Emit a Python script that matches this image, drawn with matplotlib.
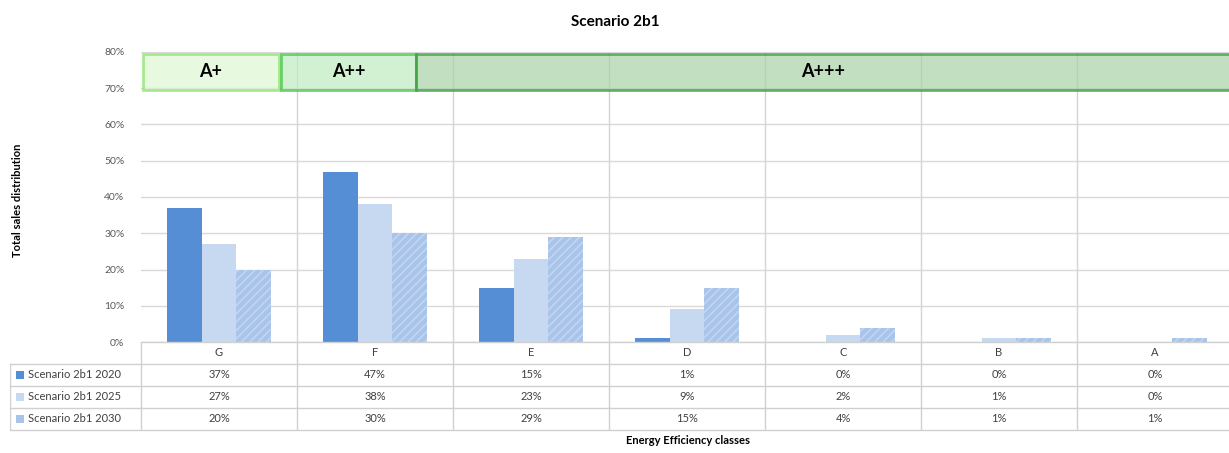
import numpy as np
import matplotlib
matplotlib.use('Agg')
import matplotlib.pyplot as plt
from matplotlib.patches import Rectangle

plt.rcParams['font.family'] = ['Lato', 'DejaVu Sans']
plt.rcParams['hatch.linewidth'] = 1.2

classes = ['G', 'F', 'E', 'D', 'C', 'B', 'A']
series = ['Scenario 2b1 2020', 'Scenario 2b1 2025', 'Scenario 2b1 2030']
s2020 = [37, 47, 15, 1, 0, 0, 0]
s2025 = [27, 38, 23, 9, 2, 1, 0]
s2030 = [20, 30, 29, 15, 4, 1, 1]
bands = ['A+', 'A++', 'A+++']

values = [s2020, s2025, s2030]
colors = ['#558ED5', '#C6D9F1', '#A9C4EB']
hatch_col = ['#558ED5', '#C6D9F1', '#C3D6F0']
hatches = [None, None, '////']

W, H = 1229, 453
fig = plt.figure(figsize=(W / 100, H / 100), dpi=100)

def px_axes(x0, y0, x1, y1):
    return fig.add_axes([x0 / W, 1 - y1 / H, (x1 - x0) / W, (y1 - y0) / H])

cat_w = 156.0
xmax = 6.5 - (1233 - W) / cat_w
ax = px_axes(141, 52, W, 342)
ax.set_xlim(-0.5, xmax)
ax.set_ylim(0, 0.8)

x = np.arange(len(classes))
bw = 0.224
for i, (vals, c) in enumerate(zip(values, colors)):
    ax.bar(x + (i - 1) * bw, np.array(vals) / 100, width=bw, color=c,
           edgecolor=hatch_col[i], linewidth=0, hatch=hatches[i], zorder=3)

for yv in np.arange(0, 0.81, 0.1):
    ax.axhline(yv, color='#D9D9D9', lw=1, zorder=1)
for xv in np.arange(0.5, 7, 1):
    ax.axvline(xv, color='#D4D4D4', lw=1, zorder=1)

ax.set_yticks(np.arange(0, 0.81, 0.1))
ax.set_yticklabels([f'{int(round(v * 100))}%' for v in np.arange(0, 0.81, 0.1)],
                   fontsize=7.5, color='#595959')
ax.tick_params(axis='y', length=0, pad=12)
ax.set_xticks([])
for s in ax.spines.values():
    s.set_visible(False)

# efficiency band boxes
band_spans = [(-0.49, 0.385), (0.4, 1.263), (1.263, xmax + 0.1)]
band_fill = ['#DDF8D2', '#C0EBC0', '#A8D2A8']
band_edge = ['#86E26A', '#3DBE3D', '#2E962E']
for name, (a, b), fc, ec in zip(bands, band_spans, band_fill, band_edge):
    ax.add_patch(Rectangle((a, 0.695), b - a, 0.1, facecolor=fc, alpha=0.7,
                           edgecolor=ec, lw=2, zorder=4, clip_on=False))
ax.text(np.mean(band_spans[0]), 0.745, bands[0], ha='center', va='center',
        fontsize=13, fontweight='bold', zorder=5)
ax.text(np.mean(band_spans[1]), 0.745, bands[1], ha='center', va='center',
        fontsize=13, fontweight='bold', zorder=5)
ax.text(3.87, 0.745, bands[2], ha='center', va='center',
        fontsize=13, fontweight='bold', zorder=5)

# data table
lab_w = 131 / cat_w
tx = px_axes(10, 342, W, 430)
tx.set_xlim(-0.5 - lab_w, xmax)
tx.set_ylim(4, 0)
tx.axis('off')
gc = '#D0D0D0'
for r in range(1, 5):
    tx.plot([-0.5 - lab_w, xmax + 1], [r, r], color=gc, lw=1, clip_on=False)
tx.plot([-0.5, xmax + 1], [0, 0], color=gc, lw=1, clip_on=False)
tx.plot([-0.5 - lab_w, -0.5 - lab_w], [1, 4], color=gc, lw=1)
tx.plot([-0.5, -0.5], [0, 4], color=gc, lw=1)
for xv in np.arange(0.5, 7, 1):
    tx.plot([xv, xv], [0, 4], color=gc, lw=1)
for j, c in enumerate(classes):
    tx.text(j, 0.5, c, ha='center', va='center', fontsize=8, color='#404040')
for i, (name, vals) in enumerate(zip(series, values)):
    tx.add_patch(Rectangle((-0.5 - lab_w + 0.04, i + 1.3), 0.05, 0.4,
                           facecolor=colors[i], edgecolor='none'))
    tx.text(-0.5 - lab_w + 0.115, i + 1.5, name, ha='left', va='center',
            fontsize=8, color='#404040')
    for j, v in enumerate(vals):
        tx.text(j, i + 1.5, f'{v}%', ha='center', va='center',
                fontsize=8, color='#404040')

fig.text(615 / W, 1 - 22 / H, 'Scenario 2b1', ha='center', va='center',
         fontsize=11, fontweight='bold')
fig.text(18 / W, 1 - 200 / H, 'Total sales distribution', ha='center', va='center',
         rotation=90, fontsize=8, fontweight='bold')
fig.text(688 / W, 1 - 441 / H, 'Energy Efficiency classes', ha='center', va='center',
         fontsize=8, fontweight='bold')

fig.savefig('out.png', dpi=100)
